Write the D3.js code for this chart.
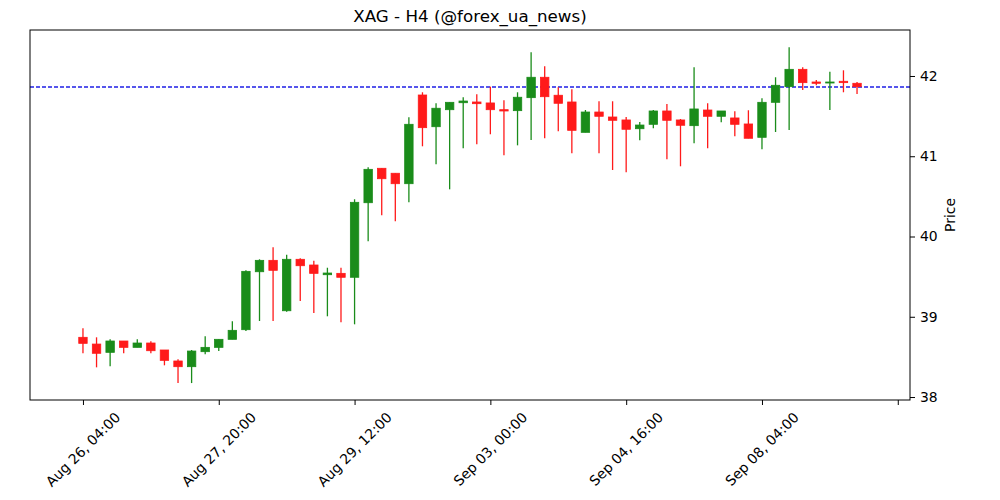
<!DOCTYPE html>
<html lang="en">
<head>
<meta charset="UTF-8">
<script src="https://d3js.org/d3.v7.min.js"></script>
<title>XAG - H4</title>
<style>
    body { margin: 0; background: #fff; }
    svg { font-family: "DejaVu Sans", sans-serif; }
</style>
</head>
<body>
<div id="chart"></div>
<script>
// candle values (index 0 = Aug 26, 04:00, one bar per 4 hours)
var opens = [38.744, 38.660, 38.557, 38.698, 38.619, 38.673, 38.586, 38.449, 38.378, 38.565,
             38.619, 38.719, 38.839, 39.561, 39.703, 39.075, 39.716, 39.645, 39.524, 39.541,
             39.492, 40.421, 40.850, 40.788, 40.658, 41.763, 41.368, 41.580, 41.667, 41.676,
             41.664, 41.580, 41.568, 41.730, 41.984, 41.760, 41.676, 41.298, 41.551, 41.489,
             41.452, 41.343, 41.398, 41.564, 41.452, 41.381, 41.576, 41.498, 41.477, 41.402,
             41.236, 41.672, 41.867, 42.083, 41.925, 41.913, 41.934, 41.909];
var highs = [38.856, 38.744, 38.719, 38.698, 38.719, 38.694, 38.586, 38.470, 38.586, 38.757,
             38.719, 38.943, 39.579, 39.716, 39.865, 39.773, 39.728, 39.698, 39.611, 39.611,
             40.464, 40.862, 40.850, 40.788, 41.485, 41.797, 41.660, 41.672, 41.735, 41.772,
             41.867, 41.697, 41.797, 42.295, 42.121, 41.859, 41.834, 41.576, 41.685, 41.685,
             41.489, 41.427, 41.576, 41.651, 41.464, 42.108, 41.660, 41.564, 41.560, 41.573,
             41.722, 41.984, 42.358, 42.108, 41.950, 42.054, 42.071, 41.925];
var lows  = [38.544, 38.370, 38.383, 38.545, 38.619, 38.545, 38.395, 38.174, 38.174, 38.532,
             38.573, 38.719, 38.822, 38.947, 38.947, 39.063, 39.196, 39.047, 39.006, 38.931,
             38.906, 39.940, 40.264, 40.189, 40.426, 41.124, 40.900, 40.588, 41.099, 41.149,
             41.274, 41.012, 41.136, 41.203, 41.224, 41.311, 41.037, 41.298, 41.037, 40.829,
             40.800, 41.199, 41.348, 40.962, 40.875, 41.161, 41.099, 41.423, 41.249, 41.224,
             41.087, 41.302, 41.327, 41.826, 41.884, 41.576, 41.797, 41.776];
var closes = [38.669, 38.545, 38.698, 38.619, 38.673, 38.577, 38.457, 38.378, 38.573, 38.619,
              38.719, 38.831, 39.566, 39.703, 39.579, 39.716, 39.636, 39.541, 39.545, 39.492,
              40.426, 40.837, 40.720, 40.658, 41.398, 41.356, 41.598, 41.672, 41.688, 41.655,
              41.580, 41.564, 41.735, 41.984, 41.742, 41.660, 41.323, 41.551, 41.498, 41.448,
              41.336, 41.389, 41.564, 41.448, 41.386, 41.589, 41.498, 41.564, 41.398, 41.224,
              41.672, 41.884, 42.083, 41.917, 41.909, 41.925, 41.917, 41.867];
var lastPrice = 41.862;

var tickIndex = [0, 10, 20, 30, 40, 50, 60];
var tickLabels = ["Aug 26, 04:00", "Aug 27, 20:00", "Aug 29, 12:00", "Sep 03, 00:00",
                  "Sep 04, 16:00", "Sep 08, 04:00", ""];
var priceTicks = [38, 39, 40, 41, 42];

var data = opens.map(function (o, i) {
    return { i: i, open: o, high: highs[i], low: lows[i], close: closes[i] };
});

var W = 1000, H = 500;
var pLeft = 30, pRight = 910, pTop = 30, pBottom = 400;

var svg = d3.select("#chart").append("svg")
    .attr("width", W).attr("height", H);

var x = d3.scaleLinear().domain([-3.9, 60.9]).range([pLeft, pRight]);
var y = d3.scaleLinear().domain([37.963, 42.573]).range([pBottom, pTop]);
var step = x(1) - x(0);

var upColor = "#1a8c1a", downColor = "#ff1a1a";

// last price line
svg.append("line")
    .attr("x1", pLeft).attr("x2", pRight)
    .attr("y1", y(lastPrice)).attr("y2", y(lastPrice))
    .attr("stroke", "#1f1fe6")
    .attr("stroke-width", 1.5)
    .attr("stroke-dasharray", "4,2");

// wicks
svg.append("g").selectAll("line")
    .data(data)
    .join("line")
    .attr("x1", function (d) { return x(d.i); })
    .attr("x2", function (d) { return x(d.i); })
    .attr("y1", function (d) { return y(d.high); })
    .attr("y2", function (d) { return y(d.low); })
    .attr("stroke", function (d) { return d.close >= d.open ? upColor : downColor; })
    .attr("stroke-width", 1.3);

// bodies
var bw = step * 0.62;
svg.append("g").selectAll("rect")
    .data(data)
    .join("rect")
    .attr("x", function (d) { return x(d.i) - bw / 2; })
    .attr("y", function (d) { return y(Math.max(d.open, d.close)); })
    .attr("width", bw)
    .attr("height", function (d) { return Math.max(1, Math.abs(y(d.open) - y(d.close))); })
    .attr("fill", function (d) { return d.close >= d.open ? upColor : downColor; })
    .attr("stroke", function (d) { return d.close >= d.open ? upColor : downColor; })
    .attr("stroke-width", 0.8);

// frame
svg.append("rect")
    .attr("x", pLeft).attr("y", pTop)
    .attr("width", pRight - pLeft).attr("height", pBottom - pTop)
    .attr("fill", "none").attr("stroke", "#000").attr("stroke-width", 1);

// x axis (labels rotated 45, centred under the tick like matplotlib)
var xAxis = svg.append("g")
    .attr("transform", "translate(0," + pBottom + ")")
    .call(d3.axisBottom(x).tickValues(tickIndex).tickSize(5).tickFormat(""));
xAxis.select(".domain").remove();
xAxis.selectAll("line").attr("stroke", "#000");

tickIndex.forEach(function (t, k) {
    if (!tickLabels[k]) return;
    var txt = svg.append("text")
        .attr("font-size", "13.9px")
        .attr("fill", "#000")
        .attr("text-anchor", "middle")
        .attr("dominant-baseline", "central")
        .text(tickLabels[k]);
    var L = txt.node().getComputedTextLength();
    var bh = (L + 13) * Math.SQRT1_2;
    txt.attr("transform", "translate(" + x(t) + "," + (pBottom + 10 + bh / 2) + ") rotate(-45)");
});

// y axis on the right
var yAxis = svg.append("g")
    .attr("transform", "translate(" + pRight + ",0)")
    .call(d3.axisRight(y).tickValues(priceTicks).tickSize(5).tickPadding(5).tickFormat(d3.format("d")));
yAxis.select(".domain").remove();
yAxis.selectAll("line").attr("stroke", "#000");
yAxis.selectAll("text").attr("font-size", "13.9px").attr("fill", "#000")
    .style("font-family", "DejaVu Sans");

svg.append("text")
    .attr("transform", "translate(955," + ((pTop + pBottom) / 2) + ") rotate(-90)")
    .attr("text-anchor", "middle")
    .attr("font-size", "13.9px")
    .text("Price");

// title
svg.append("text")
    .attr("x", (pLeft + pRight) / 2)
    .attr("y", 22)
    .attr("text-anchor", "middle")
    .attr("font-size", "16.7px")
    .text("XAG - H4 (@forex_ua_news)");
</script>
</body>
</html>
